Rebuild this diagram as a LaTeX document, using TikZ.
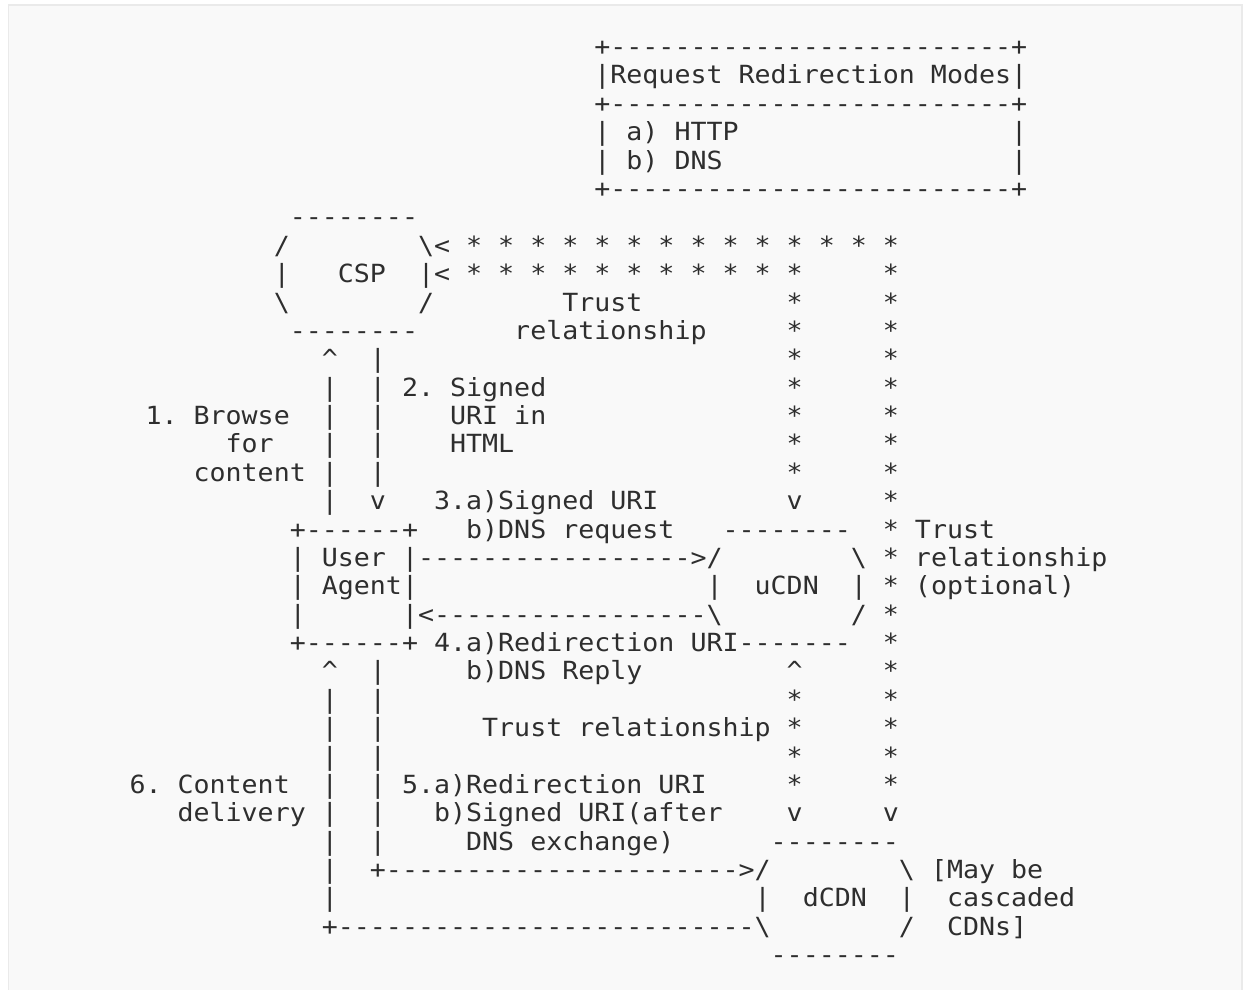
\documentclass[tikz,border=0pt]{standalone}
\usepackage{fontspec}
\setmonofont[FakeStretch=1.0651]{DejaVu Sans Mono}
\definecolor{ink}{HTML}{2E2E2E}
\definecolor{panel}{HTML}{F9F9F9}
\definecolor{framec}{HTML}{EAEAEA}
\newcommand\bs{\textbackslash}
\newcommand\caret{\textasciicircum}
\ExplSyntaxOn
\NewDocumentCommand\dashes{m}{\prg_replicate:nn{#1}{-}}
\ExplSyntaxOff
\tikzset{txt/.style={anchor=base west,inner sep=0pt,outer sep=0pt,text=ink,
  font=\ttfamily\fontsize{25}{25}\selectfont\frenchspacing}}
\newcommand\tx[3]{\node[txt] (r#1c#2) at ({129.5+16.03*#2},{84+(#1-1)*28.375}) {#3};}
\begin{document}
\begin{tikzpicture}[x=1pt,y=-1pt]
\useasboundingbox (0,0) rectangle (1243,990);
\clip (0,0) rectangle (1243,990);
\fill[white] (0,0) rectangle (1243,990);
\fill[panel] (8.5,5) rectangle (1242,1000);
\draw[framec,line width=1.5pt] (8.5,1000) -- (8.5,5) -- (1242,5) -- (1242,1000);
% Request Redirection Modes box
\tx{0}{29}{+\dashes{25}+}
\tx{1}{29}{|Request Redirection Modes|}
\tx{2}{29}{+\dashes{25}+}
\tx{3}{29}{|}\tx{3}{31}{a) HTTP}\tx{3}{55}{|}
\tx{4}{29}{|}\tx{4}{31}{b) DNS}\tx{4}{55}{|}
\tx{5}{29}{+\dashes{25}+}
% CSP
\tx{6}{10}{\dashes{8}}
\tx{7}{9}{/}\tx{7}{18}{\bs<}\tx{7}{21}{* * * * * * * * * * * * * *}
\tx{8}{9}{|}\tx{8}{13}{CSP}\tx{8}{18}{|<}\tx{8}{21}{* * * * * * * * * * *}\tx{8}{47}{*}
\tx{9}{9}{\bs}\tx{9}{18}{/}\tx{9}{27}{Trust}\tx{9}{41}{*}\tx{9}{47}{*}
\tx{10}{10}{\dashes{8}}\tx{10}{24}{relationship}\tx{10}{41}{*}\tx{10}{47}{*}
\tx{11}{12}{\caret}\tx{11}{15}{|}\tx{11}{41}{*}\tx{11}{47}{*}
\tx{12}{12}{|}\tx{12}{15}{|}\tx{12}{17}{2. Signed}\tx{12}{41}{*}\tx{12}{47}{*}
\tx{13}{1}{1. Browse}\tx{13}{12}{|}\tx{13}{15}{|}\tx{13}{20}{URI in}\tx{13}{41}{*}\tx{13}{47}{*}
\tx{14}{6}{for}\tx{14}{12}{|}\tx{14}{15}{|}\tx{14}{20}{HTML}\tx{14}{41}{*}\tx{14}{47}{*}
\tx{15}{4}{content}\tx{15}{12}{|}\tx{15}{15}{|}\tx{15}{41}{*}\tx{15}{47}{*}
\tx{16}{12}{|}\tx{16}{15}{v}\tx{16}{19}{3.a)Signed URI}\tx{16}{41}{v}\tx{16}{47}{*}
% User Agent and uCDN
\tx{17}{10}{+\dashes{6}+}\tx{17}{21}{b)DNS request}\tx{17}{37}{\dashes{8}}\tx{17}{47}{*}\tx{17}{49}{Trust}
\tx{18}{10}{|}\tx{18}{12}{User}\tx{18}{17}{|\dashes{17}>/}\tx{18}{45}{\bs}\tx{18}{47}{*}\tx{18}{49}{relationship}
\tx{19}{10}{|}\tx{19}{12}{Agent|}\tx{19}{36}{|}\tx{19}{39}{uCDN}\tx{19}{45}{|}\tx{19}{47}{*}\tx{19}{49}{(optional)}
\tx{20}{10}{|}\tx{20}{17}{|<\dashes{17}\bs}\tx{20}{45}{/}\tx{20}{47}{*}
\tx{21}{10}{+\dashes{6}+}\tx{21}{19}{4.a)Redirection URI\dashes{7}}\tx{21}{47}{*}
\tx{22}{12}{\caret}\tx{22}{15}{|}\tx{22}{21}{b)DNS Reply}\tx{22}{41}{\caret}\tx{22}{47}{*}
\tx{23}{12}{|}\tx{23}{15}{|}\tx{23}{41}{*}\tx{23}{47}{*}
\tx{24}{12}{|}\tx{24}{15}{|}\tx{24}{22}{Trust relationship}\tx{24}{41}{*}\tx{24}{47}{*}
\tx{25}{12}{|}\tx{25}{15}{|}\tx{25}{41}{*}\tx{25}{47}{*}
\tx{26}{0}{6. Content}\tx{26}{12}{|}\tx{26}{15}{|}\tx{26}{17}{5.a)Redirection URI}\tx{26}{41}{*}\tx{26}{47}{*}
\tx{27}{3}{delivery}\tx{27}{12}{|}\tx{27}{15}{|}\tx{27}{19}{b)Signed URI(after}\tx{27}{41}{v}\tx{27}{47}{v}
\tx{28}{12}{|}\tx{28}{15}{|}\tx{28}{21}{DNS exchange)}\tx{28}{40}{\dashes{8}}
% dCDN
\tx{29}{12}{|}\tx{29}{15}{+\dashes{22}>/}\tx{29}{48}{\bs}\tx{29}{50}{[May be}
\tx{30}{12}{|}\tx{30}{39}{|}\tx{30}{42}{dCDN}\tx{30}{48}{|}\tx{30}{51}{cascaded}
\tx{31}{12}{+\dashes{26}\bs}\tx{31}{48}{/}\tx{31}{51}{CDNs]}
\tx{32}{40}{\dashes{8}}
\end{tikzpicture}
\end{document}
